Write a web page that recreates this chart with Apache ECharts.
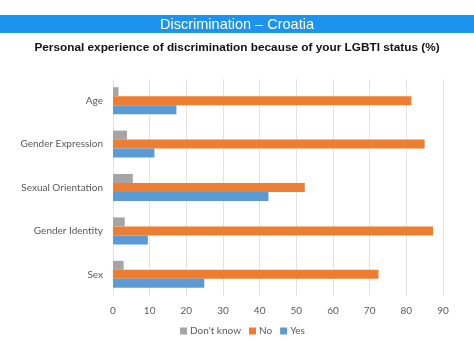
<!DOCTYPE html>
<html><head><meta charset="utf-8">
<script src="https://cdn.jsdelivr.net/npm/echarts@6/dist/echarts.min.js"></script>
<style>html,body{margin:0;padding:0;background:#fff}#c{width:474px;height:355px}</style>
</head><body><div id="c"></div>
<script>
const categories = ['Sex', 'Gender Identity', 'Sexual Orientation', 'Gender Expression', 'Age'];
const yesValues = [24.9, 9.5, 42.4, 11.3, 17.3];
const noValues = [72.4, 87.3, 52.3, 85.0, 81.4];
const dontKnowValues = [2.9, 3.2, 5.4, 3.8, 1.5];
const xTicks = [0, 10, 20, 30, 40, 50, 60, 70, 80, 90];

const chart = echarts.init(document.getElementById('c'));
const font = 'Lato, "Open Sans", sans-serif';
chart.setOption({
  animation: false,
  graphic: [
    {type: 'rect', shape: {x: 0, y: 15, width: 474, height: 18}, style: {fill: '#1c93ee'}},
    {type: 'text', x: 237, y: 24.5, style: {text: 'Discrimination – Croatia', fill: '#fff', font: '14.5px "Liberation Sans", Arial, sans-serif', align: 'center', verticalAlign: 'middle'}},
    {type: 'text', x: 237, y: 48, style: {text: 'Personal experience of discrimination because of your LGBTI status (%)', fill: '#111', font: 'bold 11.8px "Liberation Sans", Arial, sans-serif', align: 'center', verticalAlign: 'middle'}}
  ],
  legend: {
    data: ["Don't know", 'No', 'Yes'],
    left: 175, top: 321,
    itemWidth: 7, itemHeight: 7, itemGap: 8,
    icon: 'rect',
    textStyle: {color: '#595959', fontSize: 10, fontFamily: font, padding: [0, 0, 0, -2]}
  },
  grid: {left: 113, right: 31, top: 79, bottom: 59, containLabel: false},
  xAxis: {
    type: 'value', min: 0, max: 90, interval: 10,
    axisLine: {show: false}, axisTick: {show: false},
    splitLine: {lineStyle: {color: '#e3e3e3'}},
    axisLabel: {color: '#595959', fontSize: 10, fontFamily: font, margin: 10,
      formatter: v => xTicks.includes(v) ? String(v) : ''}
  },
  yAxis: {
    type: 'category', data: categories,
    axisLine: {show: false}, axisTick: {show: false},
    axisLabel: {color: '#595959', fontSize: 10, fontFamily: font, margin: 10}
  },
  series: [
    {name: "Don't know", type: 'bar', data: dontKnowValues, itemStyle: {color: '#a5a5a5'}, barWidth: 9, barGap: '0%'},
    {name: 'No', type: 'bar', data: noValues, itemStyle: {color: '#ed7d31'}, barWidth: 9, barGap: '0%'},
    {name: 'Yes', type: 'bar', data: yesValues, itemStyle: {color: '#5b9bd5'}, barWidth: 9, barGap: '0%'}
  ]
});
</script></body></html>
